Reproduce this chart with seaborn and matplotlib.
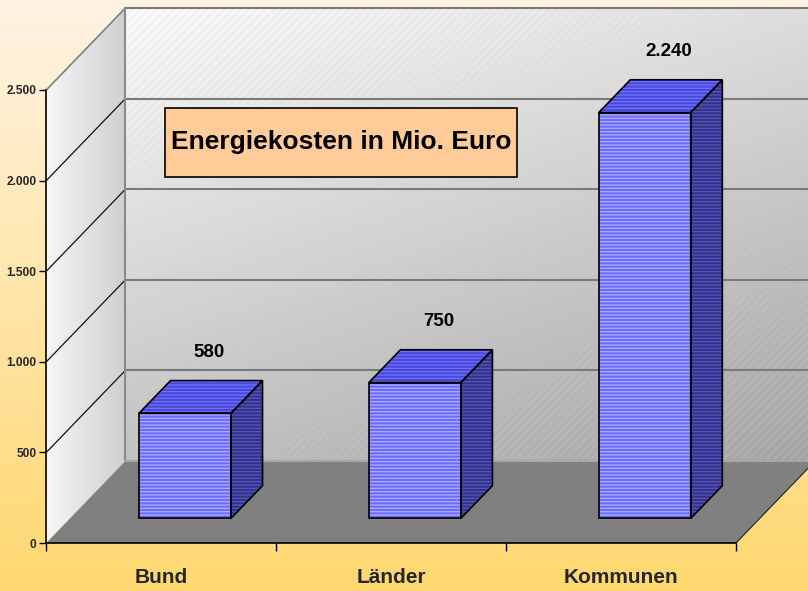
import numpy as np
import matplotlib
matplotlib.use("Agg")
import matplotlib.pyplot as plt
from matplotlib.patches import Polygon, Rectangle
from matplotlib.colors import LinearSegmentedColormap
import seaborn as sns

sns.set_theme(style="white")
plt.rcParams["font.family"] = ["Liberation Sans Narrow", "Liberation Sans", "DejaVu Sans"]
plt.rcParams["font.weight"] = "bold"
plt.rcParams["hatch.linewidth"] = 1.0

categories = ["Bund", "Länder", "Kommunen"]
values = [580, 750, 2240]
value_labels = ["580", "750", "2.240"]
y_ticks = [0, 500, 1000, 1500, 2000, 2500]
y_tick_labels = ["0", "500", "1.000", "1.500", "2.000", "2.500"]
title = "Energiekosten in Mio. Euro"

# depth of the fake 3d box, in data units
DX = 0.3436
DY = 452.0
BAR_FRONT = 0.3
BAR_BACK = 0.7
BAR_W = 0.4

fig = plt.figure(figsize=(8.08, 5.91), dpi=100)

# background gradient
bg = fig.add_axes([0, 0, 1, 1], zorder=-10)
bg_cmap = LinearSegmentedColormap.from_list("bg", ["#ffd870", "#fff3e4"])
bg.imshow(np.linspace(0, 1, 256).reshape(-1, 1), cmap=bg_cmap, aspect="auto",
          extent=(0, 1, 0, 1), origin="lower")
bg.set_axis_off()

ax = fig.add_axes([46.3 / 808, 48 / 591, 689.7 / 808, 453 / 591])
ax.patch.set_alpha(0)

x0, x1 = -0.5, len(categories) - 0.5
ymax = y_ticks[-1]

# back wall with diagonal gradient (light top-left, darker bottom-right)
gx, gy = np.meshgrid(np.linspace(0, 1, 200), np.linspace(0, 1, 200))
wall = 0.35 * gx + 0.65 * gy
wall_cmap = LinearSegmentedColormap.from_list("wall", ["#fbfbfb", "#a2a2a2"])
ax.imshow(wall, cmap=wall_cmap, aspect="auto", origin="upper",
          extent=(x0 + DX, x1 + DX + 0.2, DY, ymax + DY), clip_on=False, zorder=0)
ax.add_patch(Rectangle((x0 + DX, DY), x1 - x0 + 0.2, ymax, fill=False, hatch="////",
                       edgecolor="#d8d2c0", lw=0, alpha=0.25, clip_on=False, zorder=0.5))

# left wall
lw_cmap = LinearSegmentedColormap.from_list("lw", ["#f6f6f6", "#d0d0d0"])
left_poly = Polygon([(x0, 0), (x0, ymax), (x0 + DX, ymax + DY), (x0 + DX, DY)],
                    closed=True, facecolor="none", edgecolor="none", clip_on=False)
ax.add_patch(left_poly)
im = ax.imshow(np.linspace(0, 1, 100).reshape(1, -1), cmap=lw_cmap, aspect="auto",
               extent=(x0, x0 + DX, 0, ymax + DY), zorder=1)
im.set_clip_path(left_poly)
im.set_clip_box(fig.bbox)

# floor
ax.add_patch(Polygon([(x0, 0), (x1, 0), (x1 + DX, DY), (x0 + DX, DY)], closed=True,
                     facecolor="#808080", edgecolor="none", clip_on=False, zorder=2))
ax.plot([x0 + DX, x1 + DX + 0.2], [DY, DY], color="#a8a8a8", lw=1.5, clip_on=False, zorder=2.1)
ax.plot([x1, x1 + DX], [0, DY], color="#202020", lw=0.8, clip_on=False, zorder=2.1)

# gridlines
for v in y_ticks[1:]:
    ax.plot([x0 + DX, x1 + DX + 0.2], [v + DY, v + DY], color="#7a7a7a", lw=1.5,
            clip_on=False, zorder=1.5)
    ax.plot([x0, x0 + DX], [v, v + DY], color="#808080" if v == ymax else "#111111",
            lw=1.2 if v == ymax else 0.9, clip_on=False, zorder=1.5)
ax.plot([x0 + DX, x0 + DX], [DY, ymax + DY], color="#8a8a8a", lw=1.5, clip_on=False, zorder=1.5)

# front faces with seaborn, shifted into depth
sns.barplot(x=categories, y=values, width=BAR_W, color="#6b6bff", saturation=1,
            ax=ax, zorder=3)
for p in ax.patches[-len(values):]:
    p.set_x(p.get_x() + BAR_FRONT * DX)
    p.set_y(BAR_FRONT * DY)
    p.set_hatch("-----")
    p.set_edgecolor("#a9a9ff")
    p.set_linewidth(0)
    p.set_clip_on(False)
    ax.add_patch(Rectangle((p.get_x(), p.get_y()), p.get_width(), p.get_height(),
                           fill=False, edgecolor="black", lw=1.2, clip_on=False, zorder=3.5))

for i, v in enumerate(values):
    l, r = i - BAR_W / 2, i + BAR_W / 2
    top = [(l + BAR_FRONT * DX, v + BAR_FRONT * DY), (r + BAR_FRONT * DX, v + BAR_FRONT * DY),
           (r + BAR_BACK * DX, v + BAR_BACK * DY), (l + BAR_BACK * DX, v + BAR_BACK * DY)]
    side = [(r + BAR_FRONT * DX, BAR_FRONT * DY), (r + BAR_BACK * DX, BAR_BACK * DY),
            (r + BAR_BACK * DX, v + BAR_BACK * DY), (r + BAR_FRONT * DX, v + BAR_FRONT * DY)]
    for pts, fc, hc in [(top, "#4848d8", "#6e6eff"), (side, "#30308f", "#5656b0")]:
        ax.add_patch(Polygon(pts, closed=True, facecolor=fc, edgecolor=hc, hatch="-----",
                             lw=0, clip_on=False, zorder=3))
        ax.add_patch(Polygon(pts, closed=True, fill=False, edgecolor="black", lw=1.2,
                             clip_on=False, zorder=3.5))
    ax.annotate(value_labels[i], (i + 0.6 * DX, v + 0.6 * DY), xytext=(0, 26),
                textcoords="offset points", ha="center", va="center",
                fontsize=13.5, fontweight="bold", color="black", annotation_clip=False)

# axes
ax.set_xlim(x0, x1)
ax.set_ylim(0, ymax)
ax.set_yticks(y_ticks)
ax.set_yticklabels(y_tick_labels, fontsize=8.6, fontweight="bold")
ax.set_xticks(np.arange(len(categories) + 1) - 0.5, minor=True)
ax.set_xticks(np.arange(len(categories)))
ax.set_xticklabels(categories, fontsize=15, fontweight="bold")
ax.tick_params(axis="x", which="major", length=0, pad=18)
ax.tick_params(axis="x", which="minor", length=6, width=1, color="black", direction="out",
               bottom=True)
ax.tick_params(axis="y", length=5, width=1, color="black", direction="out", pad=2, left=True)
ax.set_xlabel("")
ax.set_ylabel("")
for s in ["top", "right"]:
    ax.spines[s].set_visible(False)
for s in ["left", "bottom"]:
    ax.spines[s].set_color("black")
    ax.spines[s].set_linewidth(1.2)
    ax.spines[s].set_zorder(4)

# title box
fig.patches.append(Rectangle((165 / 808, 1 - 177 / 591), 352 / 808, 69 / 591,
                             transform=fig.transFigure, facecolor="#ffcc99",
                             edgecolor="black", lw=1.2, zorder=5))
fig.text(341 / 808, 1 - 142.5 / 591, title, ha="center", va="center", fontsize=19,
         fontweight="bold", color="black", zorder=6)

fig.savefig("out.png", dpi=100)
